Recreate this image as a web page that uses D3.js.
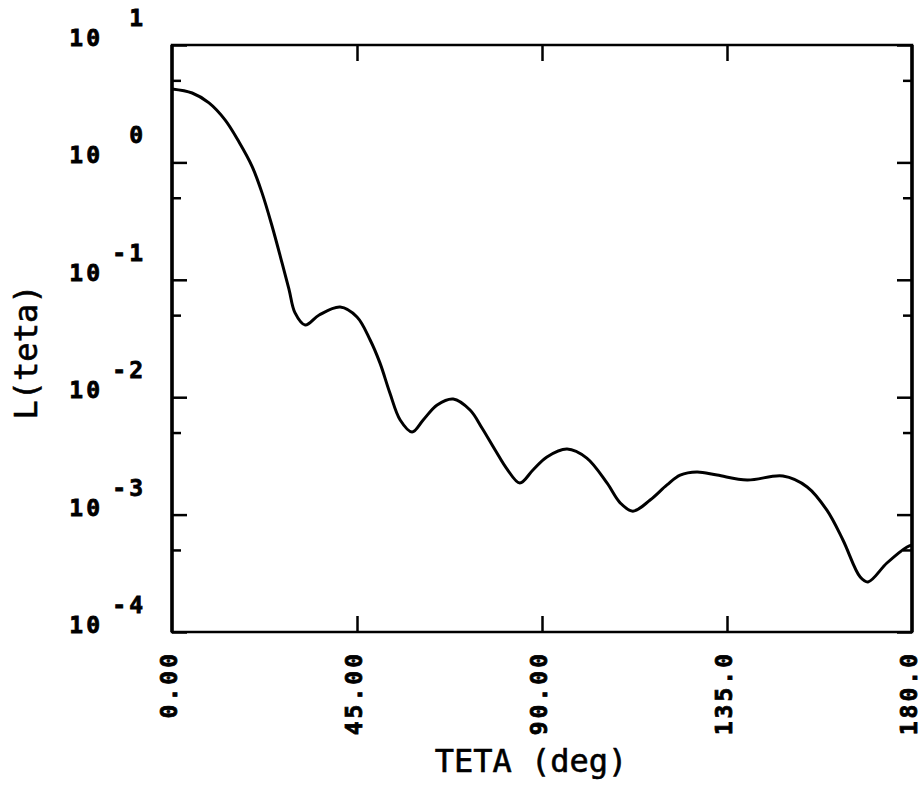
<!DOCTYPE html>
<html>
<head>
<meta charset="utf-8">
<script src="https://cdn.jsdelivr.net/npm/d3@7"></script>
<style>
  body { margin: 0; background: #fff; }
  svg { display: block; }
  text { font-family: "DejaVu Sans Mono", monospace; fill: #000; }
</style>
</head>
<body>
<div id="chart"></div>
<script>
// curve: angle in degrees, L(teta) values
var thetaDeg = [0, 4.9, 9.0, 12.9, 16.3, 19.5, 21.9, 24.3, 26.8, 28.5, 29.9, 32.4, 35.8, 40.9,
  45.0, 48.2, 50.6, 53.0, 55.5, 58.4, 61.1, 64.5, 68.4, 72.5, 75.4, 78.6, 81.5, 84.6, 87.8,
  91.2, 96.1, 100.9, 105.8, 109.0, 112.1, 116.3, 120.4, 123.6, 127.7, 132.6, 139.9, 148.6,
  154.5, 159.3, 163.2, 167.4, 169.3, 173.9, 178.8, 180];
var lTeta = [4.22, 3.90, 3.21, 2.30, 1.49, 0.92, 0.55, 0.29, 0.138, 0.0818, 0.0525, 0.0412,
  0.0501, 0.0586, 0.0482, 0.0307, 0.0195, 0.01086, 0.0064, 0.00506, 0.0064, 0.00859, 0.00966,
  0.00778, 0.00547, 0.00355, 0.00244, 0.00186, 0.0024, 0.0031, 0.00362, 0.00303, 0.00186,
  0.00126, 0.00107, 0.00133, 0.00179, 0.00217, 0.00231, 0.00217, 0.00197, 0.00213, 0.00172,
  0.00109, 0.000608, 0.000294, 0.000267, 0.000387, 0.00053, 0.00055];

var xTicks = [0, 45, 90, 135, 180];
var xTickLabels = ["0.00", "45.00", "90.00", "135.0", "180.0"];
var yMajor = [10, 1, 0.1, 0.01, 0.001, 0.0001];
var yExpLabels = ["1", "0", "-1", "-2", "-3", "-4"];
var yMinor = [5, 0.5, 0.05, 0.005, 0.0005];

var width = 921, height = 785;
var margin = {left: 172, right: 912, top: 45, bottom: 632};

var svg = d3.select("#chart")
  .append("svg")
    .attr("width", width)
    .attr("height", height);

var x = d3.scaleLinear().domain([0, 180]).range([margin.left, margin.right]);
var y = d3.scaleLog().domain([0.0001, 10]).range([margin.bottom, margin.top]);

// frame, left and right sides a bit heavier like the plotter output
svg.append("rect")
  .attr("x", margin.left).attr("y", margin.top)
  .attr("width", margin.right - margin.left).attr("height", margin.bottom - margin.top)
  .style("fill", "none").style("stroke", "#000").style("stroke-width", 2.5);
svg.append("line")
  .attr("x1", margin.left).attr("x2", margin.left)
  .attr("y1", margin.top).attr("y2", margin.bottom)
  .style("stroke", "#000").style("stroke-width", 3.5);
svg.append("line")
  .attr("x1", margin.right).attr("x2", margin.right)
  .attr("y1", margin.top).attr("y2", margin.bottom)
  .style("stroke", "#000").style("stroke-width", 3.5);

function noDomain(g) {
  g.select(".domain").remove();
  g.selectAll(".tick line").style("stroke", "#000").style("stroke-width", 2.5);
}

// y ticks, inward on both sides
svg.append("g").attr("transform", "translate(" + margin.left + ",0)")
  .call(d3.axisLeft(y).tickValues(yMajor).tickSize(-15).tickFormat(""))
  .call(noDomain);
svg.append("g").attr("transform", "translate(" + margin.left + ",0)")
  .call(d3.axisLeft(y).tickValues(yMinor).tickSize(-9).tickFormat(""))
  .call(noDomain);
svg.append("g").attr("transform", "translate(" + margin.right + ",0)")
  .call(d3.axisRight(y).tickValues(yMajor).tickSize(-15).tickFormat(""))
  .call(noDomain);
svg.append("g").attr("transform", "translate(" + margin.right + ",0)")
  .call(d3.axisRight(y).tickValues(yMinor).tickSize(-9).tickFormat(""))
  .call(noDomain);

// x ticks, inward on bottom and top
svg.append("g").attr("transform", "translate(0," + margin.bottom + ")")
  .call(d3.axisBottom(x).tickValues(xTicks.slice(1, -1)).tickSize(-16).tickFormat(""))
  .call(noDomain);
svg.append("g").attr("transform", "translate(0," + margin.top + ")")
  .call(d3.axisTop(x).tickValues(xTicks.slice(1, -1)).tickSize(-16).tickFormat(""))
  .call(noDomain);

// y tick labels: 10 with exponent
var yl = svg.append("g").style("font-weight", "bold").style("font-size", "23px")
  .style("letter-spacing", "3px").style("stroke", "#000").style("stroke-width", 0.8);
yMajor.forEach(function(v, i) {
  yl.append("text")
    .attr("x", 103).attr("y", y(v) + 1)
    .attr("text-anchor", "end")
    .text("10");
  yl.append("text")
    .attr("x", 146).attr("y", y(v) - 19)
    .attr("text-anchor", "end")
    .text(yExpLabels[i]);
});

// x tick labels, rotated
svg.append("g").style("font-weight", "bold").style("font-size", "23px")
  .style("letter-spacing", "3px").style("stroke", "#000").style("stroke-width", 0.8)
  .selectAll("text")
  .data(xTicks)
  .join("text")
    .attr("transform", function(d) { return "translate(" + (x(d) + 5) + ",651) rotate(-90)"; })
    .attr("text-anchor", "end")
    .text(function(d, i) { return xTickLabels[i]; });

// axis titles
svg.append("text")
  .attr("x", 531).attr("y", 772)
  .attr("text-anchor", "middle")
  .style("font-size", "32px")
  .style("stroke", "#000").style("stroke-width", 0.6)
  .text("TETA (deg)");

svg.append("text")
  .attr("transform", "translate(37,352) rotate(-90)")
  .attr("text-anchor", "middle")
  .style("font-size", "32px")
  .style("stroke", "#000").style("stroke-width", 0.6)
  .text("L(teta)");

// curve
var line = d3.line()
  .x(function(d, i) { return x(thetaDeg[i]); })
  .y(function(d) { return y(d); })
  .curve(d3.curveCatmullRom.alpha(0.5));

svg.append("path")
  .datum(lTeta)
  .attr("d", line)
  .style("fill", "none")
  .style("stroke", "#000")
  .style("stroke-width", 3);
</script>
</body>
</html>
